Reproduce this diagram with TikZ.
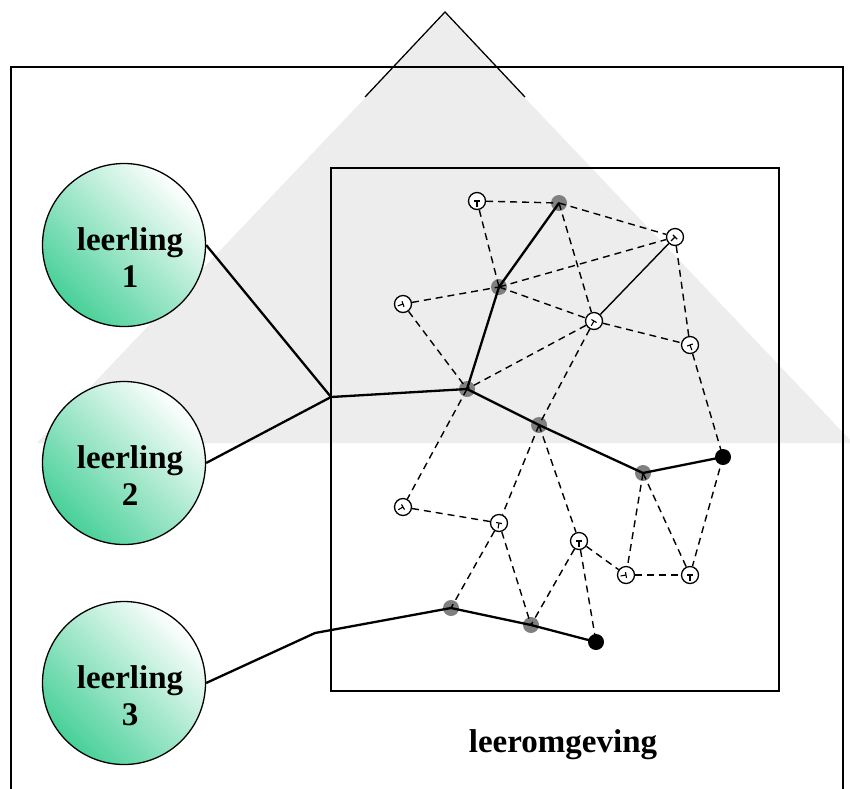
\documentclass[tikz,border=0pt]{standalone}
\usepackage{fontspec}
\setmainfont{Liberation Serif}
\definecolor{dotgray}{RGB}{128,128,128}
\definecolor{leergreen}{RGB}{72,208,152}
\definecolor{trigray}{RGB}{237,237,237}
\pgfdeclarelayer{back}
\pgfdeclarelayer{dots}
\pgfdeclarelayer{lines}
\pgfsetlayers{back,dots,lines,main}
\begin{document}
\begin{tikzpicture}[x=1pt,y=-1pt,
  opennode/.style={circle,draw,fill=white,line width=1.3pt,minimum size=17pt,inner sep=0pt},
  hand/.style={opennode,path picture={\draw[line width=1.1pt] (path picture bounding box.center) -- ++(#1:5.5) (path picture bounding box.center) ++(#1+90:3) -- ++(#1-90:6);}},
  graydot/.style={circle,fill=dotgray,minimum size=16pt,inner sep=0pt},
  blackdot/.style={circle,fill=black,minimum size=16pt,inner sep=0pt},
  solidlink/.style={line width=2.3pt,line join=round},
  thinlink/.style={line width=1.4pt},
  dashlink/.style={line width=1.4pt,dash pattern=on 7pt off 5pt},
  leer/.style={circle,draw,line width=1.3pt,minimum size=163pt,inner sep=0pt,top color=white,bottom color=leergreen,shading angle=-45},
  leertext/.style={font=\fontsize{33}{37}\selectfont\bfseries,align=center,inner sep=0pt},
]
\useasboundingbox (0,0) rectangle (850,788);
\begin{pgfonlayer}{back}
  \fill[white] (0,0) rectangle (850,788);
  \fill[trigray] (445,14) -- (37,443) -- (853,443) -- cycle;
  \draw[line width=1.3pt] (365,97) -- (445,12) -- (525,97);
  \draw[line width=2pt] (11,792) -- (11,67) -- (843,67) -- (843,792);
  \draw[line width=1.5pt] (331,168) rectangle (779,691);
\end{pgfonlayer}
\begin{pgfonlayer}{dots}
  \node[graydot] (P1) at (559,203) {};
  \node[graydot] (P2) at (499,287) {};
  \node[graydot] (P3) at (467,389) {};
  \node[graydot] (P4) at (539,425) {};
  \node[graydot] (P5) at (643,473) {};
  \node[graydot] (P6) at (451,608) {};
  \node[graydot] (P7) at (531,625) {};
\end{pgfonlayer}
% open nodes
\node[hand=90] (A) at (477,201) {};
\node[hand=135] (B) at (675,237) {};
\node[hand=160] (C) at (403,304) {};
\node[hand=120] (D) at (594,321) {};
\node[hand=70] (E) at (690,345) {};
\node[hand=150] (F) at (403,507) {};
\node[hand=100] (G) at (499,523) {};
\node[hand=90] (H) at (579,541) {};
\node[hand=170] (I) at (626,575) {};
\node[hand=90] (J) at (690,575) {};
% black dots
\node[blackdot] (K1) at (723,457) {};
\node[blackdot] (K2) at (596,642) {};
% leerlingen
\node[leer] (L1) at (124,245) {};
\node[leer] (L2) at (124,463) {};
\node[leer] (L3) at (124,683) {};
\node[leertext] (T1) at (130,258) {leerling\\1};
\node[leertext] (T2) at (130,476) {leerling\\2};
\node[leertext] (T3) at (130,696) {leerling\\3};
\node[font=\fontsize{33}{37}\selectfont\bfseries,anchor=base,inner sep=0pt] (LO) at (563,752) {leeromgeving};
\begin{pgfonlayer}{lines}
  \coordinate (J0) at (331,397);
  \coordinate (J3) at (315,633);
  \draw[solidlink] (L1.east) -- (J0) -- (P3.center) -- (P2.center) -- (P1.center);
  \draw[solidlink] (L2.east) -- (J0);
  \draw[solidlink] (P3.center) -- (P4.center) -- (P5.center) -- (K1.center);
  \draw[solidlink] (L3.east) -- (J3) -- (P6.center) -- (P7.center) -- (K2.center);
  \draw[thinlink] (D) -- (B);
  \draw[dashlink] (A) -- (P1.center);
  \draw[dashlink] (A) -- (P2.center);
  \draw[dashlink] (P1.center) -- (B);
  \draw[dashlink] (P1.center) -- (D);
  \draw[dashlink] (P2.center) -- (B);
  \draw[dashlink] (C) -- (P2.center);
  \draw[dashlink] (P2.center) -- (D);
  \draw[dashlink] (B) -- (E);
  \draw[dashlink] (D) -- (E);
  \draw[dashlink] (C) -- (P3.center);
  \draw[dashlink] (D) -- (P3.center);
  \draw[dashlink] (D) -- (P4.center);
  \draw[dashlink] (E) -- (K1.center);
  \draw[dashlink] (P3.center) -- (F);
  \draw[dashlink] (F) -- (G);
  \draw[dashlink] (P4.center) -- (G);
  \draw[dashlink] (P4.center) -- (H);
  \draw[dashlink] (G) -- (P6.center);
  \draw[dashlink] (G) -- (P7.center);
  \draw[dashlink] (H) -- (P7.center);
  \draw[dashlink] (H) -- (K2.center);
  \draw[dashlink] (H) -- (I);
  \draw[dashlink] (P5.center) -- (I);
  \draw[dashlink] (P5.center) -- (J);
  \draw[dashlink] (I) -- (J);
  \draw[dashlink] (K1.center) -- (J);
\end{pgfonlayer}
\end{tikzpicture}
\end{document}
